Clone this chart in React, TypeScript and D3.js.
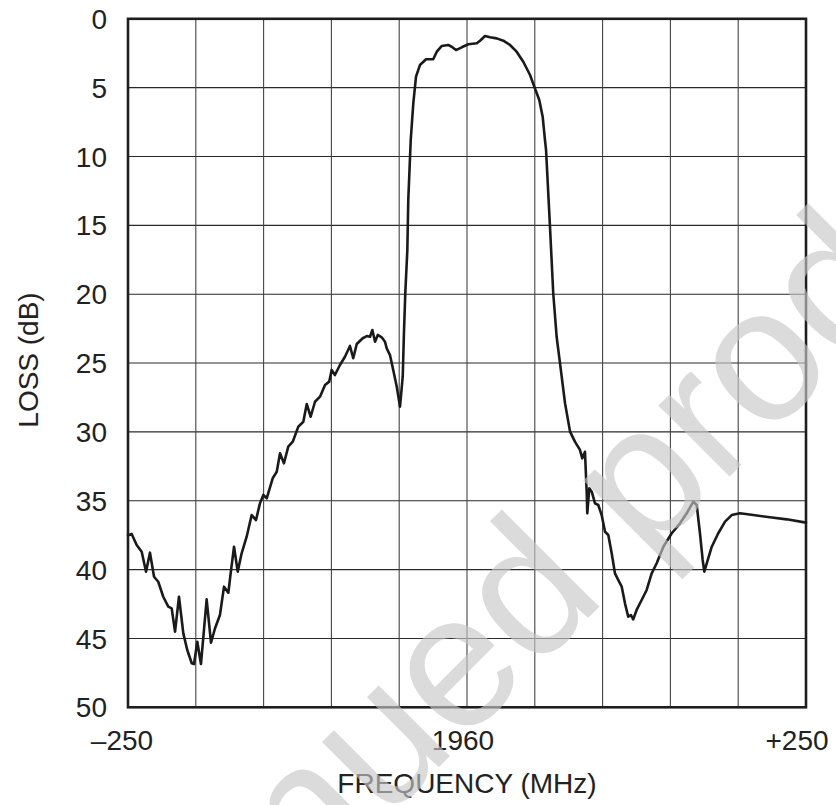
import React from "react";
import * as d3 from "d3";

const FREQ: number[] = [
  -250, -247.3, -243.6, -239.9, -236.7, -233.8, -230.8, -227.7, -224.0, -220.3,
  -217.8, -215.3, -212.4, -209.2, -206.3, -203.0, -201.3, -198.9, -196.2, -192.0,
  -188.8, -185.8, -182.2, -179.2, -176.0, -174.3, -171.8, -169.1, -166.2, -162.5,
  -158.8, -155.6, -152.7, -150.2, -147.7, -143.3, -140.3, -137.9, -135.0, -131.8,
  -128.5, -124.4, -120.7, -118.2, -115.3, -112.1, -108.4, -104.7, -101.6, -99.8,
  -97.4, -93.7, -90.0, -86.3, -83.9, -81.3, -76.9, -73.9, -71.5, -69.8,
  -67.8, -65.8, -62.9, -60.5, -59.2, -56.8, -54.4, -51.8, -49.4, -47.4,
  -46.5, -45.5, -44.0, -43.3, -41.5, -39.6, -37.6, -34.7, -30.2, -24.9,
  -22.3, -18.7, -13.8, -11.3, -8.1, -3.9, 1.0, 7.2, 9.6, 13.3,
  17.0, 21.9, 26.8, 31.7, 36.6, 41.5, 46.5, 50.1, 53.3, 55.8,
  57.5, 58.3, 61.2, 63.6, 66.1, 68.6, 72.3, 76.0, 79.6, 83.3,
  85.0, 87.0, 88.3, 88.7, 90.2, 92.0, 94.4, 96.8, 99.3, 101.8,
  104.2, 106.7, 109.1, 111.6, 114.1, 116.5, 118.9, 120.9, 122.6, 125.1,
  128.8, 132.5, 136.2, 139.9, 144.8, 151.0, 157.1, 162.0, 166.9, 169.4,
  171.8, 173.8, 175.0, 176.8, 180.5, 185.3, 190.3, 195.2, 201.3, 211.1,
  223.4, 235.8, 250,
];

const LOSS: number[] = [
  37.5, 37.41, 38.21, 38.7, 40.15, 38.77, 40.52, 40.88, 41.97, 42.69,
  42.81, 44.51, 41.97, 44.63, 45.84, 46.8, 46.86, 45.24, 46.86, 42.16,
  45.31, 44.26, 43.3, 41.24, 41.68, 40.27, 38.34, 40.15, 38.82, 37.61,
  36.04, 36.4, 35.19, 34.58, 34.82, 33.37, 32.89, 31.55, 32.28, 31.07,
  30.71, 29.62, 29.26, 27.97, 28.9, 27.81, 27.44, 26.59, 26.35, 25.5,
  25.87, 25.14, 24.54, 23.76, 24.65, 23.62, 23.2, 23.04, 23.09, 22.6,
  23.45, 22.96, 23.13, 23.45, 23.93, 24.42, 25.5, 26.72, 28.17, 25.99,
  22.82, 19.91, 16.79, 13.16, 8.8, 6.14, 4.2, 3.36, 2.94, 2.94,
  2.39, 1.98, 1.9, 2.03, 2.27, 2.07, 1.85, 1.78, 1.59, 1.25,
  1.34, 1.42, 1.59, 1.9, 2.39, 3.12, 4.08, 5.05, 5.9, 7.11,
  8.8, 9.53, 15.1, 19.93, 23.09, 25.02, 27.92, 29.98, 30.71, 31.31,
  31.92, 31.44, 34.46, 35.91, 34.1, 34.34, 35.19, 35.31, 36.04, 37.25,
  37.49, 38.82, 40.27, 40.76, 41.24, 42.45, 43.42, 43.3, 43.61, 42.93,
  42.21, 41.48, 40.27, 39.54, 38.34, 37.36, 36.64, 35.91, 35.07, 35.31,
  37.36, 39.3, 40.15, 39.54, 38.34, 37.36, 36.52, 36.04, 35.91, 36.04,
  36.2, 36.35, 36.59,
];

const X_GRID: number[] = [-250, -200, -150, -100, -50, 0, 50, 100, 150, 200, 250];
const Y_TICKS: number[] = [0, 5, 10, 15, 20, 25, 30, 35, 40, 45, 50];
const X_LABELS: { v: number; t: string; dx: number }[] = [
  { v: -250, t: "\u2013250", dx: -6 },
  { v: 0, t: "1960", dx: -4 },
  { v: 250, t: "+250", dx: -9 },
];
const X_TITLE = "FREQUENCY (MHz)";
const Y_TITLE = "LOSS (dB)";
const WATERMARK = "Discontinued product";

const W = 836;
const H = 805;
const FONT = "'Liberation Sans', Arial, Helvetica, sans-serif";

export default function App() {
  const x = d3.scaleLinear().domain([-250, 250]).range([128, 806]);
  const y = d3.scaleLinear().domain([0, 50]).range([18.8, 707.3]);
  const pts: [number, number][] = FREQ.map((f, i) => [f, LOSS[i]]);
  const line = d3
    .line<[number, number]>()
    .x((d) => x(d[0]))
    .y((d) => y(d[1]))
    .curve(d3.curveLinear);

  return (
    <svg
      width={W}
      height={H}
      style={{ position: "absolute", left: 0, top: 0, display: "block", background: "#fff" }}
      fontFamily={FONT}
    >
      <rect x={0} y={0} width={W} height={H} fill="#fff" />
      {Y_TICKS.map((t) => (
        <line key={"h" + t} x1={x(-250)} x2={x(250)} y1={y(t)} y2={y(t)} stroke="#2a2a2a" strokeWidth={1.1} />
      ))}
      {X_GRID.map((t) => (
        <line key={"v" + t} x1={x(t)} x2={x(t)} y1={y(0)} y2={y(50)} stroke="#444" strokeWidth={1.1} />
      ))}
      <rect
        x={x(-250)}
        y={y(0)}
        width={x(250) - x(-250)}
        height={y(50) - y(0)}
        fill="none"
        stroke="#1e1e1e"
        strokeWidth={2.6}
      />
      <path d={line(pts) || ""} fill="none" stroke="#1a1a1a" strokeWidth={2.6} strokeLinejoin="round" strokeLinecap="round" />
      {Y_TICKS.map((t) => (
        <text key={"yl" + t} x={107} y={y(t)} dy="0.36em" textAnchor="end" fontSize={28} fill="#222">
          {t}
        </text>
      ))}
      {X_LABELS.map((l) => (
        <text key={"xl" + l.v} x={x(l.v) + l.dx} y={750} textAnchor="middle" fontSize={28} fill="#222">
          {l.t}
        </text>
      ))}
      <text x={x(0)} y={793} textAnchor="middle" fontSize={28} fill="#222">
        {X_TITLE}
      </text>
      <text transform="translate(38,360) rotate(-90)" textAnchor="middle" fontSize={28} fill="#222">
        {Y_TITLE}
      </text>
      <g transform="translate(649,557) rotate(-45)" opacity={0.64}>
        <text x={-1156} y={0} fontSize={190} fill="#c8c8c8">
          {WATERMARK}
        </text>
      </g>
    </svg>
  );
}
